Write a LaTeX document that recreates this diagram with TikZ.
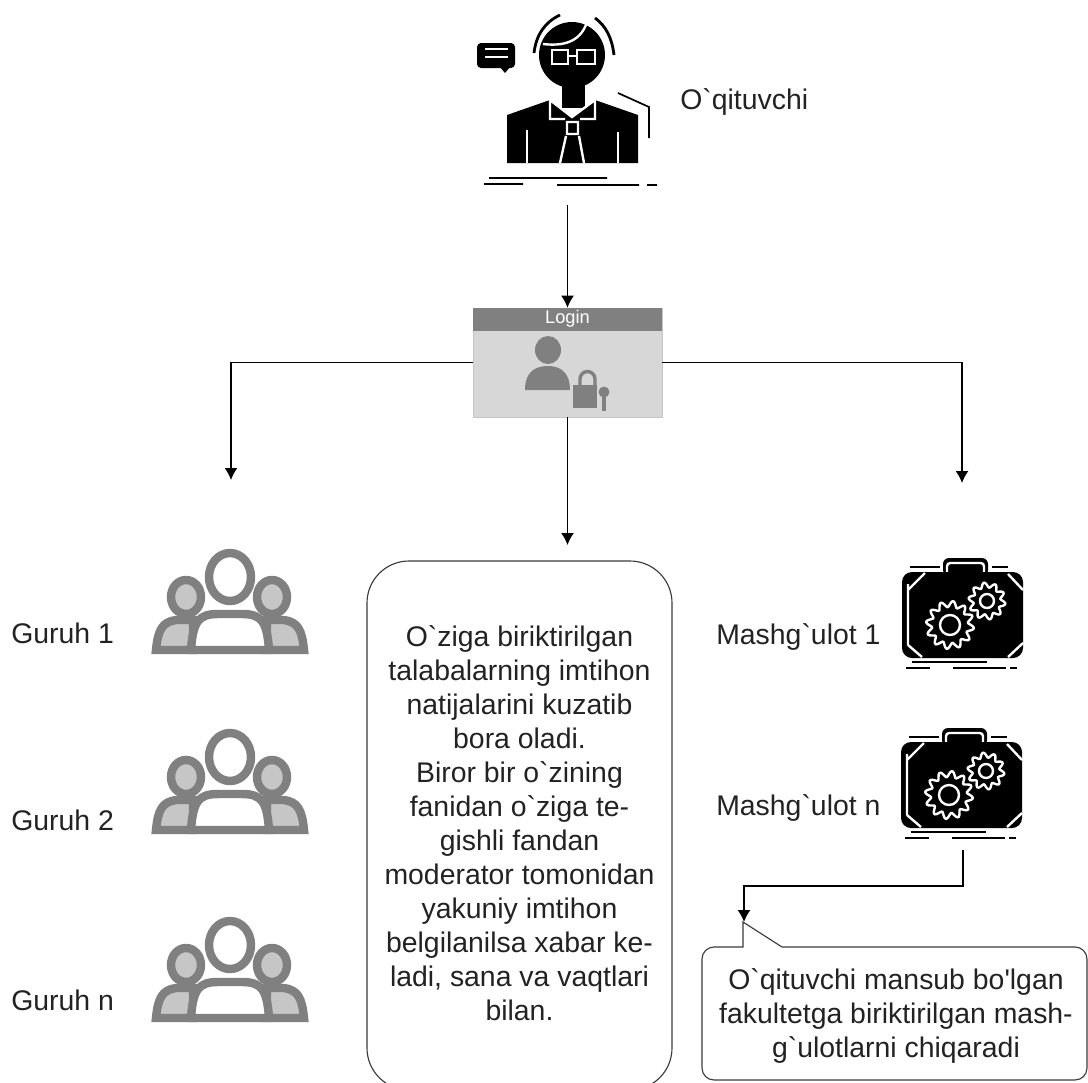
\documentclass[tikz,border=0pt]{standalone}
\usepackage{fontspec}
\usepackage{tikz}
\usetikzlibrary{positioning,calc}
\usetikzlibrary{arrows.meta}
\newfontfamily\diagfont{Liberation Sans}
\definecolor{siyoh}{HTML}{222222}
\definecolor{chiziq}{HTML}{3A3A3A}
\definecolor{kulrang}{HTML}{808080}
\definecolor{ochkul}{HTML}{C6C6C6}
\tikzstyle{yozuv} = [font=\diagfont\fontsize{20.2}{24.2}\selectfont, text=siyoh, align=center, inner sep=0pt]
\tikzstyle{ikona} = [minimum width=3.2cm, minimum height=3.4cm, inner sep=0pt]
\tikzstyle{oyna} = [rectangle, fill=ochkul!70, draw=ochkul, minimum width=4.725cm, minimum height=2.725cm, inner sep=0pt]
\tikzstyle{quti} = [rectangle, rounded corners=10.5mm, draw=chiziq, line width=0.8pt, minimum width=7.625cm, minimum height=13.225cm, inner sep=0pt]
\tikzstyle{arrow} = [line width=0.8pt, draw=black, -{Latex[length=3mm,width=3.2mm]}]
\tikzstyle{oq} = [draw=white, line width=1.7pt]
\tikzset{
	pics/guruh/.style={code={
		\begin{scope}[draw=kulrang, line width=6pt]
			\draw[fill=ochkul] (-74,50) .. controls (-72,30) and (-68,22) .. (-54,20) -- (-37,20) -- (-37,50) -- cycle;
			\draw[fill=ochkul] (74,50) .. controls (72,30) and (68,22) .. (54,20) -- (37,20) -- (37,50) -- cycle;
			\draw[fill=ochkul] (-44,-3) ellipse (15 and 17);
			\draw[fill=ochkul] (42,-3) ellipse (15 and 17);
			\draw[fill=white] (-39,50) .. controls (-37,22) and (-32,14) .. (-12,14) -- (12,14) .. controls (32,14) and (37,22) .. (39,50) -- cycle;
			\draw[fill=white] (0,-23) ellipse (21 and 24);
		\end{scope}
	}},
	pics/portfel/.style={code={
		\fill[black, rounded corners=1.5mm] (-21,-54) rectangle (24,-36);
		\draw[oq, rounded corners=0.8mm] (-17,-40) -- (-17,-49) -- (20,-49) -- (20,-40);
		\fill[black, rounded corners=2.5mm] (-62,-40) rectangle (59,46);
		\draw[oq] (-56,-22) -- (-39,-39) (44,-38) -- (59,-22) (-56,33) -- (-42,45) (44,45) -- (59,31) (-56,-28) -- (-56,33);
		\draw[oq, fill=black, shift={(-14,13)}] plot[samples=121, domain=0:360] (\x:{21+3*sin(12*\x)}) -- cycle;
		\draw[oq, shift={(-14,13)}] (0,0) circle (10);
		\draw[oq, fill=black, shift={(23,-11)}] plot[samples=121, domain=0:360] (\x:{16+2.5*sin(10*\x)}) -- cycle;
		\draw[oq, shift={(23,-11)}] (0,0) circle (7);
		\draw[black, line width=1pt] (-54,-45) -- (-24,-45) (28,-45) -- (44,-45) (-52,50) -- (23,50) (-58,56) -- (-34,56) (-11,56) -- (42,56) (46,56) -- (53,56);
	}}
}
\begin{document}
\begin{tikzpicture}[x=0.25mm,y=-0.25mm]
	\useasboundingbox (0,0) rectangle (1088,1082);
	\node (t) at (567.5,102.5) [ikona, minimum width=4.75cm, minimum height=5.125cm] {};
	\node (tt) at (680,102) [yozuv, anchor=west] {O`qituvchi};
	\node (l) at (567.5,362.5) [oyna] {};
	\coordinate (le) at (231,480);
	\coordinate (me) at (567.5,545);
	\coordinate (re) at (962,483);
	\node (q) at (519.5,825.5) [quti] {};
	\node (qt) at (519.5,823.5) [yozuv] {O`ziga biriktirilgan\\talabalarning imtihon\\natijalarini kuzatib\\bora oladi.\\Biror bir o`zining\\fanidan o`ziga te-\\gishli fandan\\moderator tomonidan\\yakuniy imtihon\\belgilanilsa xabar ke-\\ladi, sana va vaqtlari\\bilan.};
	\node (g1) at (230,600) [ikona] {};
	\node (g2) at (230,780) [ikona] {};
	\node (g3) at (230,968) [ikona] {};
	\pic at (g1) {guruh};
	\pic at (g2) {guruh};
	\pic at (g3) {guruh};
	\node (g1t) at (11,633) [yozuv, anchor=west] {Guruh 1};
	\node (g2t) at (11,820) [yozuv, anchor=west] {Guruh 2};
	\node (g3t) at (11,1000) [yozuv, anchor=west] {Guruh n};
	\node (m1) at (964,612) [ikona] {};
	\node (m2) at (963,782) [ikona] {};
	\pic at (m1) {portfel};
	\pic at (m2) {portfel};
	\node (m1t) at (716,637) [yozuv, anchor=west] {Mashg`ulot 1};
	\node (m2t) at (716,808) [yozuv, anchor=west] {Mashg`ulot n};
	\coordinate (b) at (744,886);
	\coordinate (u) at (744,922);
	\draw[draw=chiziq, line width=0.8pt] (782,947) [rounded corners=3mm] -- (1087,947) -- (1087,1080) -- (702,1080) -- (702,947) -- (730,947) [sharp corners] -- (743,947) -- (743,922) -- (782,947);
	\node (n) at (896,1015.5) [yozuv] {O`qituvchi mansub bo'lgan\\fakultetga biriktirilgan mash-\\g`ulotlarni chiqaradi};
	\fill[kulrang] (473,308) rectangle (662,331);
	\node (lt) at (567.5,319) [yozuv, font=\diagfont\fontsize{13}{15}\selectfont, text=white] {Login};
	\fill[kulrang] (548,350) ellipse (13 and 14);
	\fill[kulrang] (525,390) .. controls (525,372) and (535,366) .. (548,366) .. controls (560,366) and (570,372) .. (570,390) -- cycle;
	\draw[kulrang, line width=2.4pt] (580,386) -- (580,379) arc (180:360:7.5) -- (595,386);
	\fill[kulrang] (573,385) rectangle (597,408);
	\fill[kulrang] (604,392) circle (5.5);
	\fill[kulrang] (602,394) rectangle (606,411);
	\fill[black] (562,85) rectangle (585,108);
	\fill[black] (507,115) -- (550,100) -- (572,117) -- (595,100) -- (638,115) -- (638,163) -- (507,163) -- cycle;
	\fill[black] (572,55) circle (33);
	\draw[oq] (543,44) .. controls (560,46) and (580,44) .. (587,22);
	\draw[oq, fill=black] (552,50) rectangle (568,64) (577,50) rectangle (595,64);
	\draw[oq] (568,56) -- (577,56);
	\draw[black, line width=2pt] (560,15) .. controls (545,22) and (536,35) .. (534,53) (595,18) .. controls (606,26) and (612,38) .. (614,55);
	\draw[oq] (550,100) -- (550,119) -- (565,119) (550,100) -- (572,117) -- (595,100) -- (595,119) -- (580,119);
	\draw[oq] (567,122) -- (567,134) -- (578,134) -- (578,122) -- cycle (566,136) -- (560,163) (579,136) -- (584,163);
	\draw[oq] (527,130) -- (527,163) (618,132) -- (618,163);
	\draw[black, line width=1.2pt] (618,93) -- (649,107) -- (649,138) (489,178) -- (607,178) (484,184) -- (523,184) (557,185) -- (639,185) (647,185) -- (657,185);
	\fill[black, rounded corners=1mm] (477,43) rectangle (515,68);
	\fill[black] (500,67) -- (505,73) -- (510,67) -- cycle;
	\draw[oq] (485,49) -- (508,49) (485,57) -- (508,57);
	\draw[arrow] (t.south) -- (l.north);
	\draw[arrow] (l.west) -| (le);
	\draw[arrow] (l.south) -- (me);
	\draw[arrow] (l.east) -| (re);
	\draw[arrow] (m2.south) |- (b) -- (u);
\end{tikzpicture}
\end{document}
